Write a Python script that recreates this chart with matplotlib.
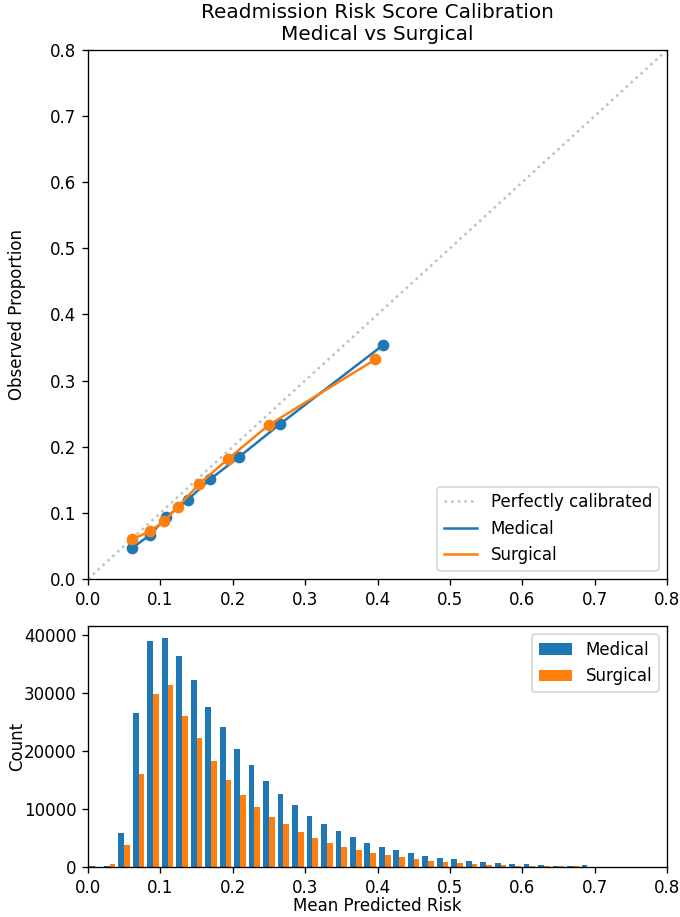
import numpy as np
import matplotlib
matplotlib.use("Agg")
import matplotlib.pyplot as plt

# calibration points (mean predicted risk vs observed proportion)
med_pred = [0.061, 0.085, 0.108, 0.138, 0.169, 0.208, 0.265, 0.408]
med_obs = [0.047, 0.066, 0.093, 0.120, 0.151, 0.184, 0.234, 0.354]
surg_pred = [0.061, 0.085, 0.105, 0.124, 0.154, 0.194, 0.250, 0.397]
surg_obs = [0.060, 0.072, 0.087, 0.109, 0.144, 0.182, 0.233, 0.332]

# histogram counts, 40 bins of width 0.02 from 0 to 0.8
bin_edges = np.linspace(0, 0.8, 41)
med_counts = [200, 200, 5830, 26570, 39090, 39540, 36400, 32230, 27710, 24170,
              20400, 17540, 14860, 12570, 10630, 8740, 7370, 6230, 5200, 4170,
              3540, 2910, 2400, 1970, 1620, 1340, 1080, 860, 740, 510,
              460, 340, 230, 250, 280, 60, 50, 60, 40, 0]
surg_counts = [0, 510, 3770, 16000, 29890, 31370, 26110, 22230, 18340, 14970,
               12460, 10400, 8630, 7430, 6060, 5090, 4170, 3540, 2970, 2400,
               2000, 1710, 1430, 1090, 880, 700, 530, 420, 320, 260,
               200, 150, 120, 100, 70, 30, 20, 10, 0, 0]

DPI = 120
fig = plt.figure(figsize=(680 / DPI, 917 / DPI), dpi=DPI)
ax1 = fig.add_axes([0.1294, 0.3686, 0.8515, 0.5769])
ax2 = fig.add_axes([0.1294, 0.0545, 0.8515, 0.2628])

# calibration plot
ax1.plot([0, 1], [0, 1], linestyle=':', color='gray', alpha=0.5, label='Perfectly calibrated')
ax1.plot(med_pred, med_obs, '-', color='tab:blue', label='Medical')
ax1.plot(med_pred, med_obs, 'o', color='tab:blue')
ax1.plot(surg_pred, surg_obs, '-', color='tab:orange', label='Surgical')
ax1.plot(surg_pred, surg_obs, 'o', color='tab:orange')
ax1.set_xlim(0, 0.8)
ax1.set_ylim(0, 0.8)
ax1.set_ylabel('Observed Proportion')
ax1.set_title('Readmission Risk Score Calibration\nMedical vs Surgical')
ax1.legend(loc='lower right')

# histogram of predicted risk
centers = (bin_edges[:-1] + bin_edges[1:]) / 2
ax2.hist([centers, centers], bins=bin_edges, weights=[med_counts, surg_counts],
         color=['tab:blue', 'tab:orange'], label=['Medical', 'Surgical'])
ax2.set_xlim(0, 0.8)
ax2.set_ylim(0, 41600)
ax2.set_yticks([0, 10000, 20000, 30000, 40000])
ax2.set_xlabel('Mean Predicted Risk', labelpad=0)
ax2.set_ylabel('Count')
ax2.legend(loc='upper right')

# both y labels sit in the same column
for ax in (ax1, ax2):
    ax.yaxis.set_label_coords(-0.107, 0.5)

fig.savefig('out.png', dpi=DPI)
